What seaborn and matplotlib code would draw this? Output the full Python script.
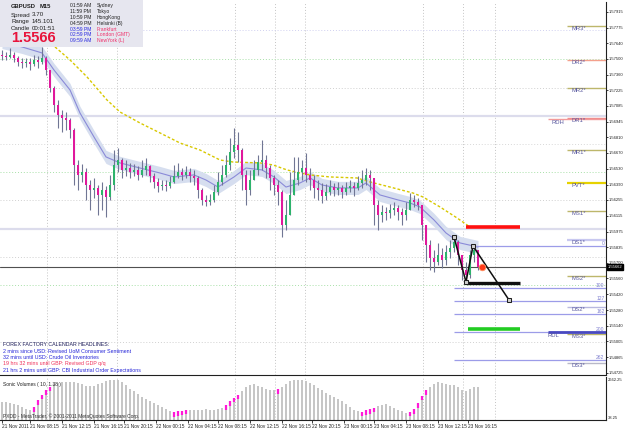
import numpy as np
import matplotlib
matplotlib.use("Agg")
import matplotlib.pyplot as plt
import seaborn as sns
from matplotlib.patches import Rectangle

sns.set_theme(style="white")
plt.rcParams['font.family'] = ['Liberation Sans', 'DejaVu Sans']

# ---------------- data (GBPUSD M15, ~30-min resolution) -------------
first_open = 1.57535
close = [1.57526, 1.57517, 1.57535, 1.57508, 1.57473, 1.57464, 1.57473, 1.57455, 1.57491, 1.57473,
         1.57508, 1.57402, 1.57243, 1.57093, 1.57005, 1.56978, 1.56961, 1.56872, 1.56563, 1.56475,
         1.56501, 1.56386, 1.56342, 1.56360, 1.56298, 1.56342, 1.56280, 1.56386, 1.56563, 1.56607,
         1.56519, 1.56536, 1.56501, 1.56519, 1.56475, 1.56519, 1.56554, 1.56466, 1.56413, 1.56377,
         1.56386, 1.56377, 1.56413, 1.56466, 1.56501, 1.56475, 1.56501, 1.56466, 1.56448, 1.56342,
         1.56254, 1.56236, 1.56254, 1.56324, 1.56413, 1.56475, 1.56563, 1.56678, 1.56740, 1.56695,
         1.56475, 1.56342, 1.56430, 1.56519, 1.56589, 1.56607, 1.56536, 1.56448, 1.56386, 1.56324,
         1.56033, 1.56121, 1.56298, 1.56430, 1.56501, 1.56536, 1.56475, 1.56430, 1.56360, 1.56342,
         1.56289, 1.56324, 1.56368, 1.56342, 1.56360, 1.56324, 1.56360, 1.56377, 1.56360, 1.56404,
         1.56430, 1.56475, 1.56448, 1.56209, 1.56121, 1.56148, 1.56139, 1.56165, 1.56183, 1.56148,
         1.56121, 1.56165, 1.56254, 1.56236, 1.56209, 1.56033, 1.55856, 1.55741, 1.55706, 1.55768,
         1.55723, 1.55794, 1.55829, 1.55882, 1.55768, 1.55635, 1.55591, 1.55768, 1.55812, 1.55662]
high = [1.57579, 1.57561, 1.57597, 1.57561, 1.57526, 1.57508, 1.57508, 1.57508, 1.57535, 1.57526,
        1.57606, 1.57526, 1.57402, 1.57261, 1.57137, 1.57049, 1.57031, 1.56978, 1.56890, 1.56607,
        1.56572, 1.56536, 1.56430, 1.56448, 1.56386, 1.56413, 1.56377, 1.56475, 1.56695, 1.56713,
        1.56625, 1.56607, 1.56581, 1.56572, 1.56554, 1.56607, 1.56625, 1.56563, 1.56492, 1.56448,
        1.56430, 1.56430, 1.56466, 1.56563, 1.56581, 1.56536, 1.56554, 1.56536, 1.56519, 1.56466,
        1.56360, 1.56298, 1.56307, 1.56386, 1.56501, 1.56563, 1.56651, 1.56802, 1.56890, 1.56855,
        1.56713, 1.56519, 1.56519, 1.56607, 1.56651, 1.56784, 1.56651, 1.56563, 1.56475, 1.56430,
        1.56342, 1.56254, 1.56501, 1.56634, 1.56634, 1.56607, 1.56669, 1.56536, 1.56475, 1.56430,
        1.56404, 1.56395, 1.56430, 1.56404, 1.56413, 1.56386, 1.56413, 1.56430, 1.56413, 1.56466,
        1.56519, 1.56536, 1.56519, 1.56448, 1.56254, 1.56209, 1.56192, 1.56218, 1.56236, 1.56209,
        1.56183, 1.56236, 1.56315, 1.56298, 1.56271, 1.56209, 1.56033, 1.55900, 1.55812, 1.55874,
        1.55829, 1.55856, 1.55900, 1.55927, 1.55900, 1.55768, 1.55706, 1.55812, 1.55847, 1.55812]
low = [1.57491, 1.57491, 1.57508, 1.57473, 1.57438, 1.57420, 1.57429, 1.57402, 1.57438, 1.57420,
       1.57455, 1.57358, 1.57208, 1.57031, 1.56890, 1.56855, 1.56872, 1.56802, 1.56386, 1.56342,
       1.56413, 1.56254, 1.56165, 1.56271, 1.56121, 1.56165, 1.56103, 1.56254, 1.56342, 1.56501,
       1.56448, 1.56466, 1.56448, 1.56466, 1.56430, 1.56457, 1.56475, 1.56413, 1.56360, 1.56324,
       1.56342, 1.56333, 1.56360, 1.56404, 1.56448, 1.56430, 1.56448, 1.56413, 1.56386, 1.56271,
       1.56209, 1.56201, 1.56209, 1.56236, 1.56298, 1.56386, 1.56457, 1.56519, 1.56625, 1.56589,
       1.56342, 1.56209, 1.56298, 1.56430, 1.56475, 1.56519, 1.56448, 1.56342, 1.56298, 1.56209,
       1.55927, 1.55988, 1.56121, 1.56298, 1.56386, 1.56430, 1.56413, 1.56342, 1.56271, 1.56254,
       1.56227, 1.56254, 1.56298, 1.56289, 1.56298, 1.56271, 1.56298, 1.56324, 1.56289, 1.56342,
       1.56360, 1.56386, 1.56342, 1.56033, 1.55988, 1.56059, 1.56077, 1.56095, 1.56121, 1.56077,
       1.56033, 1.56077, 1.56183, 1.56192, 1.56165, 1.55900, 1.55706, 1.55635, 1.55617, 1.55679,
       1.55653, 1.55679, 1.55741, 1.55794, 1.55679, 1.55547, 1.55529, 1.55564, 1.55706, 1.55635]
volume = [1088, 1088, 1035, 956, 904, 773, 615, 563, 720, 1219,
          1612, 1927, 2190, 2400, 2478, 2505, 2505, 2531, 2505, 2452,
          2347, 2268, 2216, 2242, 2347, 2478, 2583, 2640, 2662, 2640,
          2505, 2295, 2032, 1875, 1665, 1481, 1298, 1140, 1009, 878,
          746, 615, 458, 379, 432, 484, 563, 563, 563, 537,
          563, 589, 563, 563, 589, 668, 878, 1140, 1402, 1612,
          1875, 2137, 2321, 2347, 2268, 2137, 2032, 1954, 1927, 2032,
          2190, 2400, 2557, 2640, 2662, 2640, 2583, 2452, 2295, 2085,
          1927, 1770, 1612, 1481, 1350, 1140, 956, 746, 563, 432,
          405, 510, 615, 694, 825, 904, 930, 825, 694, 563,
          432, 353, 405, 615, 1035, 1560, 1927, 2190, 2400, 2505,
          2478, 2347, 2295, 2295, 2137, 1927, 1875, 2032, 2137, 2190]
climax_bars = [8, 9, 10, 11, 12, 43, 44, 45, 46, 56, 57, 58, 59, 69,
               90, 91, 92, 93, 102, 103, 104, 105, 106]

# moving average (blue) with its envelope, and the slow average (yellow dashed)
ma_idx = [0, 5, 10, 13, 17, 19.5, 23, 26, 29.5, 34.5, 39.5, 43, 48, 51, 54, 58, 61, 65, 68, 71,
          74.5, 77, 80, 84, 89, 91, 94.5, 99, 102, 104.5, 108, 111, 114.5, 119]
ma_val = [1.57650, 1.57606, 1.57553, 1.57402, 1.57226, 1.57022, 1.56810, 1.56634, 1.56581, 1.56536,
          1.56492, 1.56457, 1.56475, 1.56430, 1.56368, 1.56457, 1.56536, 1.56519, 1.56457, 1.56368,
          1.56404, 1.56448, 1.56386, 1.56360, 1.56360, 1.56404, 1.56298, 1.56254, 1.56227, 1.56192,
          1.56077, 1.55962, 1.55874, 1.55838]
ma_envelope = 0.00058
slow_idx = [13.25, 17, 21.25, 26.25, 29.5, 34.5, 39.5, 44.5, 49.5, 54.5, 57.75, 64.5, 67.75, 71.25,
            74.5, 77, 82, 88.75, 92, 97, 102.75, 105.25, 109.5, 113.75, 117]
slow_val = [1.57606, 1.57491, 1.57341, 1.57137, 1.57031, 1.56934, 1.56846, 1.56757, 1.56695, 1.56607,
            1.56589, 1.56581, 1.56563, 1.56519, 1.56492, 1.56475, 1.56457, 1.56448, 1.56413, 1.56368,
            1.56315, 1.56280, 1.56192, 1.56095, 1.56015]

# pivot levels
pivot_names = ["MR3*", "DR2*", "MR2*", "DR1*", "MR1*", "PVT*", "MS1*", "DS1*", "MS2*", "DS2*", "MS3*", "DS3*"]
pivot_prices = [1.57791, 1.57491, 1.57243, 1.56978, 1.56695, 1.56404, 1.56156, 1.55900, 1.55582,
                1.55308, 1.55069, 1.54813]
pivot_colors = ["#bdb76b", "#f4a08c", "#bdb76b", "#f08a8a", "#bdb76b", "#e6d200", "#bdb76b",
                "#c8c8f0", "#bdb76b", "#b8b8e0", "#bdb76b", "#b8b8c8"]
range_high, range_low = 1.56969, 1.55087
fib_names = ["0", "100", "127", "162", "200", "262"]
fib_prices = [1.55847, 1.55476, 1.55361, 1.55246, 1.55087, 1.54840]
zz_idx = [113, 116, 117.75, 126.75]
zz_val = [1.55927, 1.55529, 1.55847, 1.55370]
target_red, target_black, target_green = 1.56015, 1.55520, 1.55114
bid = 1.55662
session_lines = [11.25, 28.75, 58.25, 68.25, 75.75, 105.25, 115.25, 123.25]
price_ticks = [1.57915, 1.57775, 1.57640, 1.57500, 1.57360, 1.57225, 1.57085, 1.56945, 1.56810,
               1.56670, 1.56530, 1.56390, 1.56255, 1.56115, 1.55975, 1.55835, 1.55700, 1.55560,
               1.55420, 1.55280, 1.55140, 1.55005, 1.54865, 1.54725]
date_pos = [0, 7, 15, 23, 30.5, 38.5, 46.5, 54, 62, 70, 77.5, 85.5, 93, 101, 109, 116.5]
date_labels = ["21 Nov 2011", "21 Nov 08:15", "21 Nov 12:15", "21 Nov 16:15", "21 Nov 20:15",
               "22 Nov 00:15", "22 Nov 04:15", "22 Nov 08:15", "22 Nov 12:15", "22 Nov 16:15",
               "22 Nov 20:15", "23 Nov 00:15", "23 Nov 04:15", "23 Nov 08:15", "23 Nov 12:15",
               "23 Nov 16:15"]

# ---------------- figure ---------------------------------------------------------------
W, H = 625, 429
fig = plt.figure(figsize=(W / 100, H / 100), dpi=100)
fig.patch.set_facecolor("white")


def fx(x):
    return x / W


def fy(y):
    return 1 - y / H


AXR = 606
ax = fig.add_axes([0, fy(375), fx(AXR), (375 - 2) / H])
axv = fig.add_axes([0, fy(420), fx(AXR), (420 - 377) / H])
XMAX = -0.5 + AXR / 4
for a in (ax, axv):
    a.set_xlim(-0.5, XMAX)
    a.set_facecolor("white")
    for s in ("left", "top"):
        a.spines[s].set_visible(False)
    for s in ("right", "bottom"):
        a.spines[s].set_color("#202020")
        a.spines[s].set_linewidth(0.8)
    for xs in session_lines:
        a.axvline(xs, color="#c4c4c4", lw=0.7, ls=(0, (1, 2)), zorder=0)
ax.set_ylim(1.54707, 1.58003)

# full-width guide lines
for lvl, col, ls, lw in [(1.57756, "#d0d0f0", (0, (1, 2)), 0.7), (1.57500, "#a8e0a8", (0, (1, 2)), 0.7),
                         (1.57243, "#d0d0d0", (0, (1, 2)), 0.7), (1.56996, "#dcdcec", "-", 1.6),
                         (1.56748, "#d8d8d8", (0, (1, 2)), 0.7), (1.56501, "#a8e0a8", (0, (1, 2)), 0.7),
                         (1.56254, "#d0d0d0", (0, (1, 2)), 0.7), (1.55997, "#dcdcec", "-", 1.6),
                         (1.55750, "#d0d0d0", (0, (1, 2)), 0.7), (1.55502, "#a8e0a8", (0, (1, 2)), 0.7),
                         (1.54999, "#d0d0d0", (0, (1, 2)), 0.7)]:
    ax.axhline(lvl, color=col, ls=ls, lw=lw, zorder=0.5)
ax.axhline(bid, color="#505050", lw=0.8, zorder=2.5)

# envelope + MA
ma_i = np.array(ma_idx)
ma_v = np.array(ma_val)
ax.fill_between(ma_i, ma_v - ma_envelope, ma_v + ma_envelope, color="#d6deef", lw=0, zorder=1)
sns.lineplot(x=ma_idx, y=ma_val, ax=ax, color="#8a8ad8", lw=0.8, sort=False, estimator=None, zorder=2)
sns.lineplot(x=slow_idx, y=slow_val, ax=ax, color="#d8c800", lw=1.0, sort=False, estimator=None,
             zorder=2, linestyle=(0, (2, 1.5)))

# candles
c = np.array(close)
h = np.array(high)
lo = np.array(low)
o = np.r_[first_open, c[:-1]]
idx = np.arange(len(c))
h = np.maximum(h, np.maximum(o, c))
lo = np.minimum(lo, np.minimum(o, c))
up = c >= o
ax.vlines(idx, lo, h, color="#707694", lw=0.8, zorder=3)
body_lo = np.minimum(o, c)
body_h = np.maximum(np.abs(c - o), 0.00004)
ax.bar(idx, body_h, bottom=body_lo, width=0.6, color=np.where(up, "#2db36b", "#e0189c"),
       lw=0, zorder=4)

# pivot segments + labels
for name, p, col in zip(pivot_names, pivot_prices, pivot_colors):
    lw = 1.6 if name in ("DS1*", "PVT*") else 1.0
    ax.hlines(p, 141.25, XMAX, color=col, lw=lw, zorder=2)
    ax.text(142.3, p - 0.00004, name, fontsize=4.2, color="#5a5aa0", va="top", ha="left", zorder=6)
ax.hlines(range_high, 136.5, XMAX, color="#f29a9a", lw=1.0, zorder=2)
ax.text(137.3, range_high - 0.00005, "RDH", fontsize=4.2, color="#5a5aa0", va="top", zorder=6)

# fibonacci expansion levels
for name, p in zip(fib_names, fib_prices):
    start = 117.75 if name == "0" else 113
    ax.hlines(p, start, XMAX, color="#9c9ce8", lw=0.9, zorder=2)
    ax.text(XMAX - 0.4, p + 0.00003, name, fontsize=3.6, color="#8080d0", ha="right", va="bottom", zorder=6)
ax.hlines(range_low, 136.5, XMAX, color="#4848c0", lw=2.0, zorder=2.2)
ax.text(136.5, range_low - 0.00006, "RDL", fontsize=4.2, color="#5a5aa0", va="top", zorder=6)

# targets and zigzag
ax.hlines(target_red, 116, 129.5, color="#ff1010", lw=2.6, zorder=5)
ax.hlines(target_black, 116, 129.5, color="#101010", lw=2.4, zorder=5)
ax.hlines(target_green, 116.5, 129.5, color="#22cc22", lw=2.6, zorder=5)
sns.lineplot(x=zz_idx, y=zz_val, ax=ax, color="#101010", lw=1.1, sort=False, estimator=None, zorder=6,
             marker="s", markersize=2.5, markerfacecolor="#d0d0d0", markeredgecolor="#202020")
ax.scatter([120], [bid], s=22, color="#ff3b1a", edgecolor="#ff9060", lw=0.6, zorder=7)

# price axis
TICKFS = 3.0
ax.yaxis.tick_right()
ax.set_yticks(price_ticks)
ax.set_yticklabels([f"{t:.5f}" for t in price_ticks])
ax.tick_params(axis="y", labelsize=TICKFS, length=1.2, width=0.6, pad=0.5, colors="#202020", right=True)
ax.tick_params(axis="x", bottom=False, labelbottom=False)
ax.annotate(f"{bid:.5f}", xy=(1.0, bid), xycoords=("axes fraction", "data"),
            xytext=(1.3, 0), textcoords="offset points", fontsize=TICKFS, color="white", va="center",
            ha="left", annotation_clip=False, zorder=10,
            bbox=dict(boxstyle="square,pad=0.25", fc="black", ec="black"))

# volume panel
v = np.array(volume)
axv.set_ylim(-174.5, 2875)
axv.bar(idx, v + 174.5, bottom=-174.5, width=0.45, color="#c6c6c6", lw=0, zorder=2)
hot = np.array(climax_bars)
axv.vlines(hot, v[hot] - 330, v[hot], color="#ff19d8", lw=1.6, zorder=3)
axv.yaxis.tick_right()
axv.set_yticks([38.25, 2662.25])
axv.set_yticklabels(["38.25", "2662.25"])
axv.tick_params(axis="y", labelsize=TICKFS, length=0, pad=1.2, colors="#202020")
axv.set_xticks(date_pos)
axv.set_xticklabels(date_labels)
axv.tick_params(axis="x", labelsize=3.4, length=2, width=0.6, pad=1.2, colors="#202020", bottom=True)
for lab in axv.get_xticklabels():
    lab.set_horizontalalignment("left")
axv.text(0.005, 0.80, "Sonic Volumes ( 10, 1.38 )", transform=axv.transAxes, fontsize=3.5,
         color="#202020", zorder=6)
axv.text(0.005, 0.05, "PXDD - MetaTrader, \u00a9 2001-2011 MetaQuotes Software Corp.",
         transform=axv.transAxes, fontsize=3.5, color="#303030", zorder=6)

# info box (top-left)
fig.add_artist(Rectangle((0, fy(47)), fx(143), 47 / H, transform=fig.transFigure,
                         facecolor="#e6e6ef", edgecolor="none", zorder=5))
fig.text(fx(11), fy(6), "GBPUSD", fontsize=4.2, fontweight="bold", color="#202020", va="center", zorder=6)
fig.text(fx(40), fy(6), "M15", fontsize=4.2, fontweight="bold", color="#202020", va="center", zorder=6)
for k, (lab, val) in enumerate([("Spread", "3.70"), ("Range", "145.101"), ("Candle", "00:01:51")]):
    yy = 15 + 6.6 * k
    fig.text(fx(11), fy(yy), lab, fontsize=4.4, color="#202020", va="center", zorder=6)
    fig.text(fx(32), fy(yy), val, fontsize=4.4, color="#202020", va="center", zorder=6)
fig.text(fx(11), fy(38.5), "1.5566", fontsize=10.5, fontweight="bold", color="#e8143c", va="center", zorder=6)
times = ["01:59 AM", "11:59 PM", "10:59 PM", "04:59 PM", "03:59 PM", "02:59 PM", "09:59 AM"]
places = ["Sydney", "Tokyo", "HongKong", "Helsinki (B)", "Frankfurt", "London (GMT)", "NewYork (L)"]
for k, (t, p) in enumerate(zip(times, places)):
    yy = 5.7 + 5.85 * k
    tc = "#202020" if k < 4 else "#2a2ae0"
    pc = "#202020" if k < 4 else "#f0306a"
    fig.text(fx(70), fy(yy), t, fontsize=3.6, color=tc, va="center", zorder=6)
    fig.text(fx(97), fy(yy), p, fontsize=3.6, color=pc, va="center", zorder=6)

# calendar headlines
news = [("FOREX FACTORY CALENDAR HEADLINES:", "#1e1e5a"),
        ("2 mins since USD: Revised UoM Consumer Sentiment", "#2424d8"),
        ("32 mins until USD: Crude Oil Inventories", "#2424d8"),
        ("19 hrs 32 mins until GBP: Revised GDP q/q", "#f0305a"),
        ("21 hrs 2 mins until GBP: CBI Industrial Order Expectations", "#2424d8")]
for k, (t, col) in enumerate(news):
    fig.text(fx(3), fy(345 + 6.3 * k), t, fontsize=3.8, color=col, va="center", zorder=6)

fig.savefig("out.png", dpi=100)
